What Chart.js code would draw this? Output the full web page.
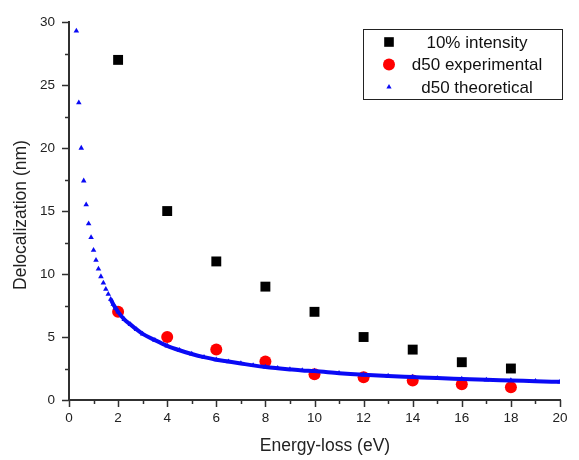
<!DOCTYPE html>
<html>
<head>
<meta charset="utf-8">
<script src="https://cdn.jsdelivr.net/npm/chart.js@4.4.1/dist/chart.umd.min.js"></script>
<style>
  body { margin: 0; background: #fff; }
  #wrap { width: 579px; height: 460px; }
</style>
</head>
<body>
<div id="wrap"><canvas id="plot" width="579" height="460"></canvas></div>
<script>
// energy loss (eV) and delocalization (nm)
const energyMeasured = [2, 4, 6, 8, 10, 12, 14, 16, 18];
const intensity10 = [27.0, 15.0, 11.0, 9.0, 7.0, 5.0, 4.0, 3.0, 2.5];
const d50Experimental = [7.0, 5.0, 4.0, 3.05, 2.05, 1.8, 1.55, 1.25, 1.02];

const energyTheory = [0.3, 0.4, 0.5, 0.6, 0.7, 0.8, 0.9, 1.0, 1.1, 1.2, 1.3, 1.4, 1.5, 1.6, 1.7, 1.8, 1.9, 2.0,
  2.25, 2.5, 2.75, 3.0, 3.5, 4.0, 4.5, 5.0, 5.5, 6.0, 6.5, 7.0, 7.5, 8.0, 8.5, 9.0, 9.5, 10,
  11, 12, 13, 14, 15, 16, 17, 18, 19, 20];
const d50Theoretical = [29.3, 23.6, 20.0, 17.4, 15.5, 14.0, 12.9, 11.9, 11.1, 10.4, 9.8, 9.3, 8.8, 8.4, 8.0, 7.6, 7.3, 7.0,
  6.4, 6.0, 5.6, 5.25, 4.75, 4.3, 3.95, 3.65, 3.4, 3.2, 3.05, 2.9, 2.75, 2.62, 2.52, 2.43, 2.35, 2.3,
  2.13, 2.0, 1.9, 1.82, 1.74, 1.67, 1.6, 1.55, 1.49, 1.44];

const xTickLabels = [0, 2, 4, 6, 8, 10, 12, 14, 16, 18, 20];
const yTickLabels = [0, 5, 10, 15, 20, 25, 30];

const seriesNames = ['10% intensity', 'd50 experimental', 'd50 theoretical'];
const BLUE = '#0a0af5';
const AXIS = '#303030';
const FONT = "'Liberation Sans', Arial, sans-serif";

function pairs(xs, ys) {
  return xs.map((x, i) => ({ x: x, y: ys[i] }));
}

// outward major/minor tick marks on both axes, plus axis titles
const tickMarks = {
  id: 'tickMarks',
  afterDraw(chart) {
    const { ctx, scales: { x, y } } = chart;
    ctx.save();
    ctx.strokeStyle = AXIS;
    ctx.lineWidth = 1.5;
    ctx.beginPath();
    for (let v = x.min; v <= x.max; v += 1) {
      const px = Math.round(x.getPixelForValue(v)) + 0.5;
      const len = xTickLabels.includes(v) ? 7 : 4;
      ctx.moveTo(px, x.top);
      ctx.lineTo(px, x.top + len);
    }
    for (let v = y.min; v <= y.max; v += 2.5) {
      const py = Math.round(y.getPixelForValue(v)) + 0.5;
      const len = yTickLabels.includes(v) ? 7 : 4;
      ctx.moveTo(y.right, py);
      ctx.lineTo(y.right - len, py);
    }
    ctx.stroke();

    ctx.fillStyle = '#222';
    ctx.textAlign = 'center';
    ctx.textBaseline = 'middle';
    ctx.font = '17.5px ' + FONT;
    ctx.fillText('Energy-loss (eV)', 325, 446);
    ctx.translate(21, 215);
    ctx.rotate(-Math.PI / 2);
    ctx.fillText('Delocalization (nm)', 0, 0);
    ctx.restore();
  }
};

// boxed legend with centred entry text
const boxLegend = {
  id: 'boxLegend',
  afterDraw(chart) {
    const { ctx } = chart;
    const left = 363, top = 29, w = 199, h = 70;
    ctx.save();
    ctx.fillStyle = '#fff';
    ctx.fillRect(left, top, w, h);
    ctx.strokeStyle = '#222';
    ctx.lineWidth = 1;
    ctx.strokeRect(left + 0.5, top + 0.5, w, h);
    ctx.font = '17px ' + FONT;
    ctx.textAlign = 'center';
    ctx.textBaseline = 'middle';
    chart.data.datasets.forEach((ds, i) => {
      const cy = top + 13 + i * 22.5;
      const style = {
        pointStyle: ds.pointStyle,
        radius: ds.legendRadius,
        rotation: 0,
        borderWidth: 0
      };
      ctx.fillStyle = ds.pointBackgroundColor || ds.backgroundColor;
      ctx.strokeStyle = ds.pointBackgroundColor || ds.backgroundColor;
      Chart.helpers.drawPoint(ctx, style, 389, cy);
      ctx.fillStyle = '#111';
      ctx.fillText(ds.label, 477, cy + 1);
    });
    ctx.restore();
  }
};

new Chart(document.getElementById('plot'), {
  type: 'scatter',
  data: {
    datasets: [
      {
        label: seriesNames[0],
        data: pairs(energyMeasured, intensity10),
        pointStyle: 'rect',
        pointRadius: 7,
        legendRadius: 6.8,
        backgroundColor: '#000',
        borderColor: '#000',
        borderWidth: 0,
        order: 2
      },
      {
        label: seriesNames[1],
        data: pairs(energyMeasured, d50Experimental),
        pointStyle: 'circle',
        pointRadius: 6,
        legendRadius: 6,
        backgroundColor: '#ff0000',
        borderColor: '#ff0000',
        borderWidth: 0,
        order: 1
      },
      {
        label: seriesNames[2],
        data: pairs(energyTheory, d50Theoretical),
        showLine: true,
        pointStyle: 'triangle',
        pointRadius: 3.2,
        legendRadius: 3,
        pointBackgroundColor: BLUE,
        pointBorderWidth: 0,
        backgroundColor: BLUE,
        borderColor: BLUE,
        borderWidth: 4,
        cubicInterpolationMode: 'monotone',
        segment: {
          borderColor: c => c.p0.parsed.x < 1.65 ? 'rgba(0,0,0,0)' : BLUE
        },
        order: 0
      }
    ]
  },
  options: {
    responsive: false,
    devicePixelRatio: 1,
    animation: false,
    layout: { padding: { top: 18, right: 19, left: 0, bottom: 0 } },
    plugins: {
      legend: { display: false },
      tooltip: { enabled: false }
    },
    scales: {
      x: {
        type: 'linear',
        min: 0,
        max: 20,
        afterBuildTicks: s => { s.ticks = xTickLabels.map(v => ({ value: v })); },
        afterFit: s => { s.height = 60; },
        grid: { drawOnChartArea: false, drawTicks: false },
        border: { display: true, color: AXIS, width: 2 },
        ticks: { color: '#222', padding: 10, maxRotation: 0, font: { family: FONT, size: 13.5 } }
      },
      y: {
        type: 'linear',
        min: 0,
        max: 30,
        afterBuildTicks: s => { s.ticks = yTickLabels.map(v => ({ value: v })); },
        afterFit: s => { s.width = 69; },
        grid: { drawOnChartArea: false, drawTicks: false },
        border: { display: true, color: AXIS, width: 2 },
        ticks: { color: '#222', padding: 14, font: { family: FONT, size: 13.5 } }
      }
    }
  },
  plugins: [tickMarks, boxLegend]
});
</script>
</body>
</html>
